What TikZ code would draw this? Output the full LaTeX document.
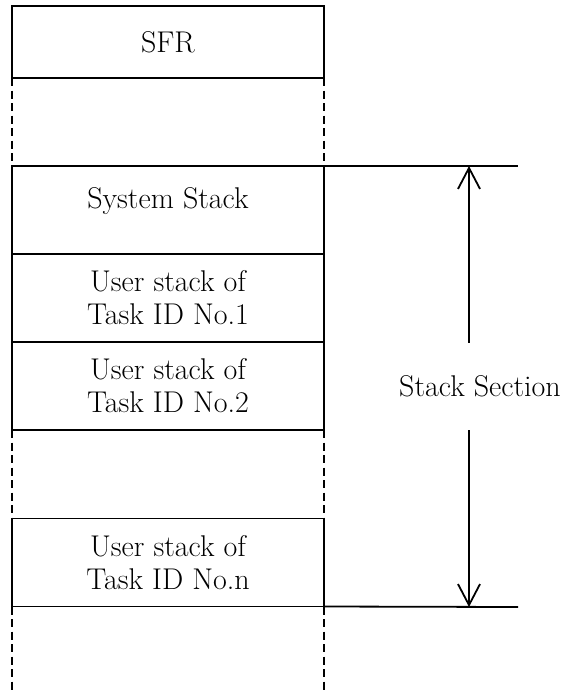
\documentclass[tikz,border=0pt]{standalone}
\usepackage{tikz}
\usetikzlibrary{positioning,arrows.meta}

\begin{document}
\begin{tikzpicture}[x=1pt,y=-1pt,
    cell/.style={rectangle,draw,line width=1.8pt,outer sep=0pt,inner sep=0pt,
      minimum width=312pt,minimum height=88pt,align=center,
      font=\fontsize{30}{33}\selectfont},
    gapline/.style={line width=1.8pt,dash pattern=on 8pt off 4.5pt},
    edge/.style={line width=1.8pt},
    span/.style={line width=1.8pt,-{Straight Barb[length=21pt,width=22pt]}}]
  \useasboundingbox (0,0) rectangle (572,694);

  % Draw memory blocks
  \node[cell,minimum height=72pt] (sfr) at (168,42) {SFR};
  \node[cell,text height=21pt,text depth=25pt] (sys) at (168,210) {System Stack};
  \node[cell,below=0pt of sys] (usr1) {User stack of\\Task ID No.1};
  \node[cell,below=0pt of usr1] (usr2) {User stack of\\Task ID No.2};
  \node[cell] (usrn) at (168,562.5) {User stack of\\Task ID No.n};

  % Dashed sides between blocks
  \coordinate (endl) at (12,694);
  \coordinate (endr) at (324,694);
  \draw[gapline] (sfr.south west) -- (sys.north west);
  \draw[gapline] (sfr.south east) -- (sys.north east);
  \draw[gapline] (usr2.south west) -- (usrn.north west);
  \draw[gapline] (usr2.south east) -- (usrn.north east);
  \draw[gapline] (usrn.south west) -- (endl);
  \draw[gapline] (usrn.south east) -- (endr);

  % Stack section range
  \coordinate (topend) at (518,166);
  \coordinate (botend) at (518,607);
  \coordinate (top) at (469,166);
  \coordinate (bot) at (469,607);
  \draw[edge] (sys.north east) -- (topend);
  \draw[edge] (usrn.south east) -- (botend);
  \node[font=\fontsize{30}{33}\selectfont,minimum height=87pt,inner sep=0pt] (sec) at (480,386.5) {Stack Section};
  \draw[span] (sec.north -| top) -- (top);
  \draw[span] (sec.south -| bot) -- (bot);
\end{tikzpicture}
\end{document}
